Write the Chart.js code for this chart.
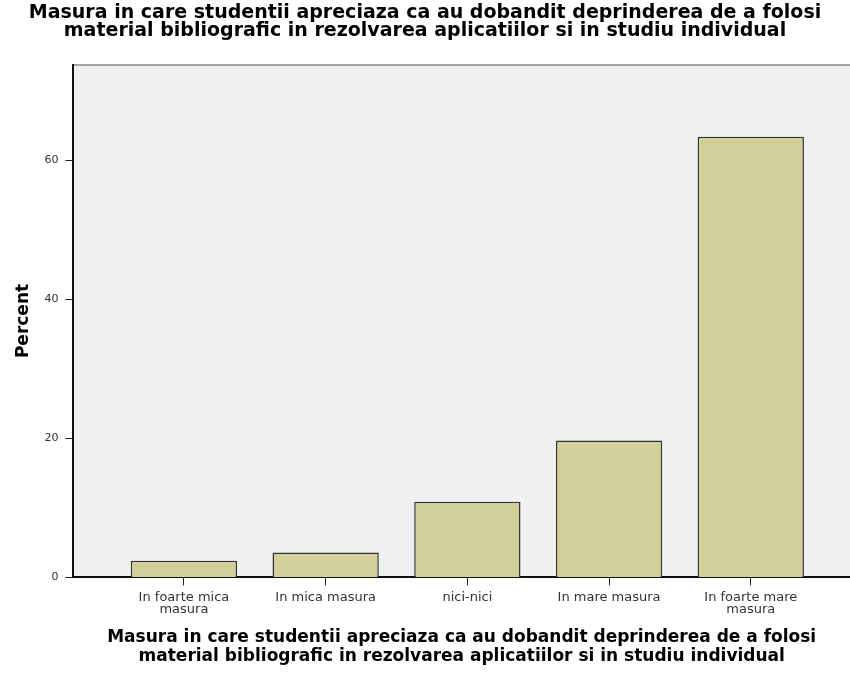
<!DOCTYPE html>
<html>
<head>
<meta charset="utf-8">
<script src="https://cdn.jsdelivr.net/npm/chart.js@4/dist/chart.umd.min.js"></script>
<style>
    html, body { margin: 0; padding: 0; background: #fff; overflow: hidden; }
    #wrap { width: 850px; height: 675px; }
</style>
</head>
<body>
<div id="wrap"><canvas id="barChart"></canvas></div>
<script>
(function () {
    'use strict';

    var categories = [
        ['In foarte mica', 'masura'],
        'In mica masura',
        'nici-nici',
        'In mare masura',
        ['In foarte mare', 'masura']
    ];
    var percents = [2.4, 3.6, 10.9, 19.7, 63.4];
    var yTicks = [0, 20, 40, 60];
    var titleLines = [
        'Masura in care studentii apreciaza ca au dobandit deprinderea de a folosi',
        'material bibliografic in rezolvarea aplicatiilor si in studiu individual'
    ];

    var font = '"DejaVu Sans", Verdana, sans-serif';

    var points = percents.map(function (v, i) {
        return { x: i, y: v };
    });

    // gray plot background with a thin top border
    var plotBackground = {
        id: 'plotBackground',
        beforeDraw: function (chart) {
            var a = chart.chartArea;
            var c = chart.ctx;
            c.save();
            c.fillStyle = '#f0f0f0';
            c.fillRect(a.left, a.top, a.right - a.left, a.bottom - a.top);
            c.strokeStyle = '#8a8a8a';
            c.lineWidth = 1.5;
            c.beginPath();
            c.moveTo(a.left, a.top + 0.5);
            c.lineTo(a.right, a.top + 0.5);
            c.stroke();
            c.restore();
        }
    };

    var ctx = document.getElementById('barChart').getContext('2d');

    new Chart(ctx, {
        type: 'bar',
        data: {
            datasets: [{
                data: points,
                backgroundColor: '#d3cf99',
                borderColor: '#333333',
                borderWidth: 1.5,
                categoryPercentage: 1,
                barPercentage: 0.75
            }]
        },
        plugins: [plotBackground],
        options: {
            responsive: true,
            maintainAspectRatio: false,
            animation: false,
            layout: { padding: { left: 0, right: 0, top: 2, bottom: 9 } },
            plugins: {
                legend: { display: false },
                tooltip: { enabled: false },
                title: {
                    display: true,
                    text: titleLines,
                    color: '#000',
                    font: { family: font, size: 19, weight: 'bold', lineHeight: 0.95 },
                    padding: { top: 2, bottom: 24.5 }
                }
            },
            scales: {
                x: {
                    type: 'linear',
                    offset: false,
                    min: -0.78,
                    max: 4.7,
                    afterBuildTicks: function (axis) {
                        axis.ticks = categories.map(function (c, i) {
                            return { value: i };
                        });
                    },
                    ticks: {
                        autoSkip: false,
                        maxRotation: 0,
                        color: '#333',
                        font: { family: font, size: 13, lineHeight: 0.95 },
                        padding: 6,
                        callback: function (value) {
                            return categories[value];
                        }
                    },
                    grid: {
                        display: true,
                        offset: false,
                        drawOnChartArea: false,
                        tickLength: 8,
                        color: '#222'
                    },
                    border: { display: true, color: '#111', width: 2 },
                    title: {
                        display: true,
                        text: titleLines,
                        color: '#000',
                        font: { family: font, size: 17, weight: 'bold', lineHeight: 1.1 },
                        padding: { top: 6.5, bottom: 0 }
                    }
                },
                y: {
                    min: 0,
                    max: 73.8,
                    afterBuildTicks: function (axis) {
                        axis.ticks = yTicks.map(function (v) {
                            return { value: v };
                        });
                    },
                    ticks: {
                        color: '#333',
                        font: { family: font, size: 11 },
                        padding: 7
                    },
                    grid: {
                        display: true,
                        drawOnChartArea: false,
                        tickLength: 8,
                        color: '#222'
                    },
                    border: { display: true, color: '#111', width: 2 },
                    title: {
                        display: true,
                        text: 'Percent',
                        color: '#000',
                        font: { family: font, size: 17, weight: 'bold' },
                        padding: { top: 13, bottom: 4 }
                    }
                }
            }
        }
    });
}());
</script>
</body>
</html>
